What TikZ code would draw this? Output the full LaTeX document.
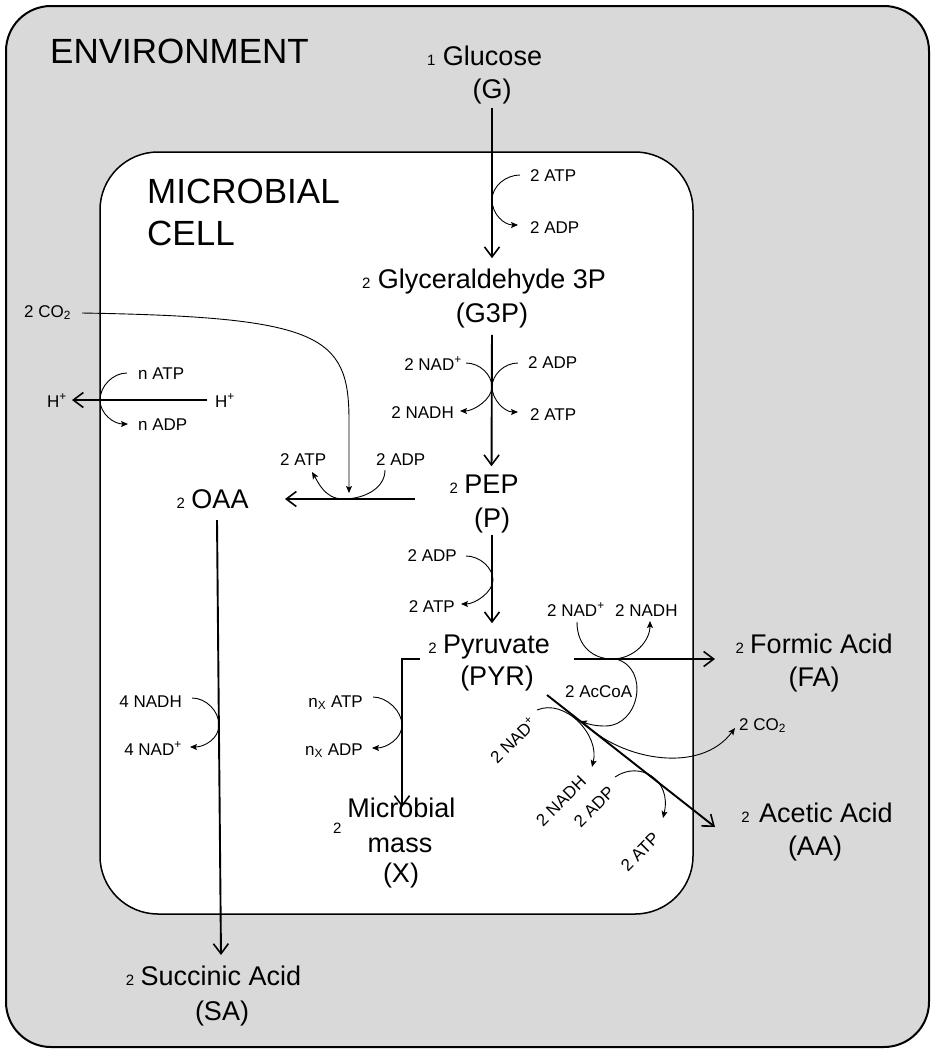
\documentclass[tikz,border=0pt]{standalone}
\usepackage{fontspec}
\setmainfont{Liberation Sans}
\usetikzlibrary{arrows.meta}
\definecolor{envgray}{RGB}{217,217,217}
\begin{document}
\begin{tikzpicture}[x=1pt,y=-1pt,
  big/.style={font=\fontsize{27}{32}\selectfont, inner sep=0pt},
  ttl/.style={font=\fontsize{35}{42}\selectfont, inner sep=0pt},
  lbl/.style={font=\fontsize{17}{20}\selectfont, inner sep=0pt},
  cf/.style={font=\fontsize{15}{18}\selectfont, inner sep=0pt},
  mainarr/.style={line width=1.9pt, -{Straight Barb[length=10pt,width=15pt,line width=1.6pt]}},
  cof/.style={line width=0.9pt, -{Stealth[length=7pt,width=6pt,inset=1.5pt]}}]
\useasboundingbox (0,0) rectangle (935,1053);
% compartments
\draw[line width=2pt, fill=envgray, rounded corners=45pt] (6,6) rectangle (929,1047);
\draw[line width=1.5pt, fill=white, rounded corners=58pt] (100,152) rectangle (693,914);
% titles
\node[ttl, anchor=base west] (env) at (50,63) {ENVIRONMENT};
\node[ttl, anchor=base west] (mc1) at (147,203) {MICROBIAL};
\node[ttl, anchor=base west] (mc2) at (147,245) {CELL};
% metabolites
\node[big, anchor=base] (glc) at (492.5,65) {Glucose};
\node[cf, anchor=base east] (glcc) at ([xshift=-7pt]glc.base west) {1};
\node[big, anchor=base] (glcab) at (492,98) {(G)};
\node[big, anchor=base] (g3p) at (492,288) {Glyceraldehyde 3P};
\node[cf, anchor=base east] (g3pc) at ([xshift=-7pt]g3p.base west) {2};
\node[big, anchor=base] (g3pab) at (492,322) {(G3P)};
\node[big, anchor=base] (pep) at (491.5,493) {PEP};
\node[cf, anchor=base east] (pepc) at ([xshift=-6pt]pep.base west) {2};
\node[big, anchor=base] (pepab) at (492,527) {(P)};
\node[big, anchor=base] (pyr) at (496.5,653) {Pyruvate};
\node[cf, anchor=base east] (pyrc) at ([xshift=-6pt]pyr.base west) {2};
\node[big, anchor=base] (pyrab) at (497,685) {(PYR)};
\node[big, anchor=base] (fa) at (821.5,653) {Formic Acid};
\node[cf, anchor=base east] (fac) at ([xshift=-6pt]fa.base west) {2};
\node[big, anchor=base] (faab) at (814,686) {(FA)};
\node[big, anchor=base] (aa) at (826,822) {Acetic Acid};
\node[cf, anchor=base east] (aac) at ([xshift=-9pt]aa.base west) {2};
\node[big, anchor=base] (aaab) at (815,855) {(AA)};
\node[big, anchor=base] (oaa) at (220,508) {OAA};
\node[cf, anchor=base east] (oaac) at ([xshift=-6pt]oaa.base west) {2};
\node[big, anchor=base] (xm) at (401.5,817) {Microbial};
\node[cf, anchor=base west] (xmc) at (333,833) {2};
\node[big, anchor=base] (xm2) at (400,852) {mass};
\node[big, anchor=base] (xab) at (401,882) {(X)};
\node[big, anchor=base] (sa) at (221,985) {Succinic Acid};
\node[cf, anchor=base east] (sac) at ([xshift=-6pt]sa.base west) {2};
\node[big, anchor=base] (saab) at (222,1020) {(SA)};
% cofactor labels
\node[lbl, anchor=base west] (atpA) at (530,181) {2 ATP};
\node[lbl, anchor=base west] (adpA) at (530,233) {2 ADP};
\node[lbl, anchor=base east] (nadB) at (462,370) {2 NAD\textsuperscript{+}};
\node[lbl, anchor=base east] (nadhB) at (454,418) {2 NADH};
\node[lbl, anchor=base west] (adpB) at (528,368) {2 ADP};
\node[lbl, anchor=base west] (atpB) at (530,420) {2 ATP};
\node[lbl, anchor=base east] (adpC) at (457,561) {2 ADP};
\node[lbl, anchor=base east] (atpC) at (455,612) {2 ATP};
\node[lbl, anchor=base west] (atpD) at (280,465) {2 ATP};
\node[lbl, anchor=base west] (adpD) at (376,465) {2 ADP};
\node[lbl, anchor=base west] (co2L) at (24,317) {2 CO\textsubscript{2}};
\node[lbl, anchor=base west] (natp) at (138,379) {n ATP};
\node[lbl, anchor=base west] (nadp) at (138,430) {n ADP};
\node[lbl, anchor=base west] (hout) at (47,407) {H\textsuperscript{+}};
\node[lbl, anchor=base west] (hin) at (215,407) {H\textsuperscript{+}};
\node[lbl, anchor=base east] (nadhG) at (182,707) {4 NADH};
\node[lbl, anchor=base east] (nadG) at (182,755) {4 NAD\textsuperscript{+}};
\node[lbl, anchor=base east] (nxatp) at (363,707) {n\textsubscript{X} ATP};
\node[lbl, anchor=base east] (nxadp) at (363,755) {n\textsubscript{X} ADP};
\node[lbl, anchor=base west] (nadF) at (547,616) {2 NAD\textsuperscript{+}};
\node[lbl, anchor=base west] (nadhF) at (615,616) {2 NADH};
\node[lbl, anchor=base west] (accoa) at (565,697) {2 AcCoA};
\node[lbl, anchor=base west] (co2R) at (739,730) {2 CO\textsubscript{2}};
\node[lbl, rotate=45] (nadR) at (513,740) {2 NAD\textsuperscript{+}};
\node[lbl, rotate=45] (nadhR) at (561,801) {2 NADH};
\node[lbl, rotate=45] (adpR) at (594,807) {2 ADP};
\node[lbl, rotate=45] (atpR) at (640,852) {2 ATP};
% named points for connectors
\coordinate (pyrR) at (574,659);
\coordinate (faL) at (715,659);
\coordinate (pyrD) at (547,695);
\coordinate (aaL) at (715,827);
\coordinate (pyrL) at (420,659);
\coordinate (xT) at (402,807);
\coordinate (pepL) at (415,499);
\coordinate (oaaR) at (285,499);
\coordinate (oaaB) at (217,520);
\coordinate (saT) at (221,955);
\coordinate (hinL) at (207,400);
\coordinate (houtR) at (72,400);
% main pathway arrows
\draw[mainarr, shorten <=4pt, shorten >=10pt] (glcab.south) -- (g3p.north);
\draw[mainarr, shorten <=7pt, shorten >=8pt] (g3pab.south) -- (pep.north);
\draw[mainarr, shorten <=2pt, shorten >=11pt] (pepab.south) -- (pepab.south |- pyr.north);
\draw[mainarr] (pyrR) -- (faL);
\draw[mainarr] (pyrD) -- (aaL);
\draw[mainarr] (pyrL) -| (xT);
\draw[mainarr] (pepL) -- (oaaR);
\draw[mainarr] (oaaB) -- (saT);
\draw[mainarr] (hinL) -- (houtR);
% cofactor coordinates
\coordinate (a1s) at (520,175); \coordinate (a1j) at (492,200); \coordinate (a1e) at (518,225);
\coordinate (b1s) at (466,363); \coordinate (b1j) at (492,387); \coordinate (b1e) at (460,411);
\coordinate (b2s) at (518,363); \coordinate (b2e) at (518,412);
\coordinate (c1s) at (466,556); \coordinate (c1j) at (493,580); \coordinate (c1e) at (461,604);
\coordinate (d1s) at (385,470); \coordinate (d1j) at (343,499); \coordinate (d1e) at (312,472);
\coordinate (e1s) at (82,313); \coordinate (e1m) at (349,420); \coordinate (e1e) at (349,493);
\coordinate (f1s) at (127,373); \coordinate (f1j) at (100,400); \coordinate (f1e) at (128,424);
\coordinate (g1s) at (192,698); \coordinate (g1j) at (219,725); \coordinate (g1e) at (190,747);
\coordinate (h1s) at (373,697); \coordinate (h1j) at (402,725); \coordinate (h1e) at (372,748);
\coordinate (i1s) at (577,622); \coordinate (i1j) at (612,659); \coordinate (i1e) at (650,621);
\coordinate (k1s) at (616,659); \coordinate (k1m) at (605,726); \coordinate (k1e) at (580,721);
\coordinate (m1s) at (583,722); \coordinate (m1e) at (735,728);
\coordinate (n1s) at (537,710); \coordinate (n1e) at (592,767);
\coordinate (p1s) at (615,777); \coordinate (p1e) at (663,818);
% cofactor curves
\draw[cof] (a1s) .. controls +(-14,0) and +(0,-14) .. (a1j) .. controls +(0,14) and +(-14,0) .. (a1e);
\draw[cof] (b1s) .. controls +(14,0) and +(0,-12) .. (b1j) .. controls +(0,12) and +(14,0) .. (b1e);
\draw[cof] (b2s) .. controls +(-14,0) and +(0,-12) .. (b1j) .. controls +(0,12) and +(-14,0) .. (b2e);
\draw[cof] (c1s) .. controls +(14,0) and +(0,-12) .. (c1j) .. controls +(0,12) and +(14,0) .. (c1e);
\draw[cof] (d1s) .. controls +(0,18) and +(22,0) .. (d1j) .. controls +(-18,0) and +(6,10) .. (d1e);
\draw[cof] (e1s) .. controls (320,317) and (349,335) .. (e1m) -- (e1e);
\draw[cof] (f1s) .. controls +(-14,0) and +(0,-14) .. (f1j) .. controls +(0,14) and +(-14,0) .. (f1e);
\draw[cof] (g1s) .. controls +(14,0) and +(0,-14) .. (g1j) .. controls +(0,14) and +(14,0) .. (g1e);
\draw[cof] (h1s) .. controls +(14,0) and +(0,-14) .. (h1j) .. controls +(0,14) and +(14,0) .. (h1e);
\draw[cof] (i1s) .. controls +(0,25) and +(-18,0) .. (i1j) .. controls +(22,0) and +(0,20) .. (i1e);
\draw[cof] (k1s) .. controls (650,668) and (640,726) .. (k1m) .. controls (595,726) and (588,724) .. (k1e);
\draw[cof] (m1s) .. controls (620,760) and (700,775) .. (m1e);
\draw[cof] (n1s) .. controls (565,698) and (600,735) .. (n1e);
\draw[cof] (p1s) .. controls (640,760) and (672,780) .. (p1e);
\end{tikzpicture}
\end{document}
